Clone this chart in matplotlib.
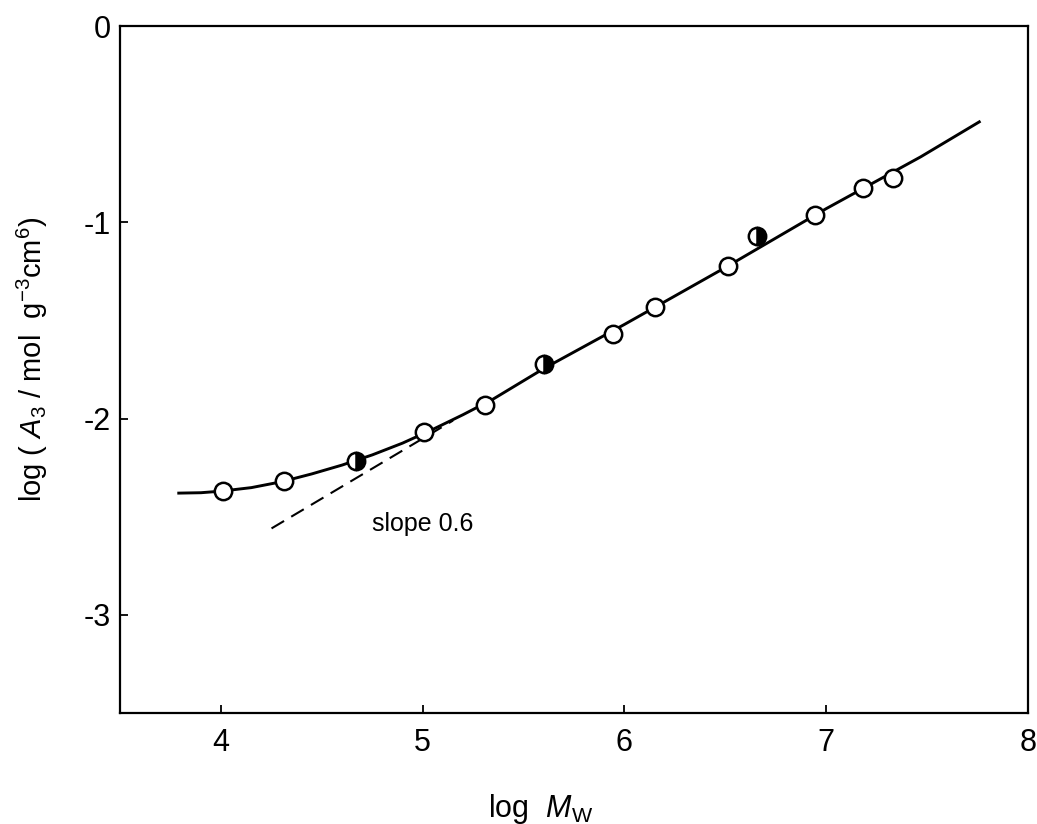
import numpy as np
import matplotlib
matplotlib.use("Agg")
import matplotlib.pyplot as plt

plt.rcParams["font.family"] = ["Liberation Sans", "DejaVu Sans"]
plt.rcParams["mathtext.fontset"] = "custom"
plt.rcParams["mathtext.rm"] = "Liberation Sans"
plt.rcParams["mathtext.it"] = "Liberation Sans:italic"

# open circles
log_mw_open = [4.01, 4.31, 5.005, 5.307, 5.945, 6.15, 6.515, 6.945, 7.185, 7.333]
log_a3_open = [-2.369, -2.318, -2.07, -1.93, -1.571, -1.429, -1.22, -0.961, -0.824, -0.774]

# half-filled circles
log_mw_half = [4.67, 5.60, 6.66]
log_a3_half = [-2.217, -1.723, -1.067]

# solid curve
curve_x = [3.79, 3.9, 4.0, 4.15, 4.3, 4.45, 4.6, 4.75, 4.9, 5.05, 5.2, 5.35,
           5.6, 6.0, 6.5, 7.0, 7.47, 7.76]
curve_y = [-2.38, -2.378, -2.37, -2.352, -2.322, -2.282, -2.237, -2.185, -2.125,
           -2.055, -1.98, -1.90, -1.745, -1.52, -1.23, -0.93, -0.665, -0.487]

# asymptote, slope 0.6
dash_x = [4.25, 5.15]
dash_y = [-2.56, -2.01]

fig = plt.figure(figsize=(10.37, 8.24), dpi=100)
ax = fig.add_axes([0.116, 0.135, 0.875, 0.833])

ax.plot(curve_x, curve_y, color="black", lw=2.1, zorder=2)
ax.plot(dash_x, dash_y, color="black", lw=1.5, dashes=[7, 4], zorder=2)

ax.plot(log_mw_open, log_a3_open, "o", ms=12.5, mfc="white", mec="black",
        mew=1.8, zorder=3)
ax.plot(log_mw_half, log_a3_half, "o", ms=12.5, fillstyle="right",
        mfc="black", mfcalt="white", mec="black", mew=1.8, zorder=3)

ax.text(4.75, -2.54, "slope 0.6", fontsize=18, va="center", ha="left")

ax.set_xlim(3.5, 8)
ax.set_ylim(-3.5, 0)
ax.set_xticks([4, 5, 6, 7, 8])
ax.set_yticks([0, -1, -2, -3])
ax.set_yticklabels(["0", "-1", "-2", "-3"])

for s in ax.spines.values():
    s.set_linewidth(1.6)
ax.tick_params(direction="in", length=6, width=1.3, labelsize=22)
ax.tick_params(axis="x", pad=11)
ax.tick_params(axis="y", pad=7)

ax.set_xlabel(r"log  $M_\mathrm{W}$", fontsize=22)
ax.set_ylabel(r"log ( $A_3$ / mol  g$^{-3}$cm$^6$)", fontsize=21, va="center")
ax.xaxis.set_label_coords(0.463, -0.115)
ax.yaxis.set_label_coords(-0.097, 0.515)

fig.savefig("out.png", dpi=100)
